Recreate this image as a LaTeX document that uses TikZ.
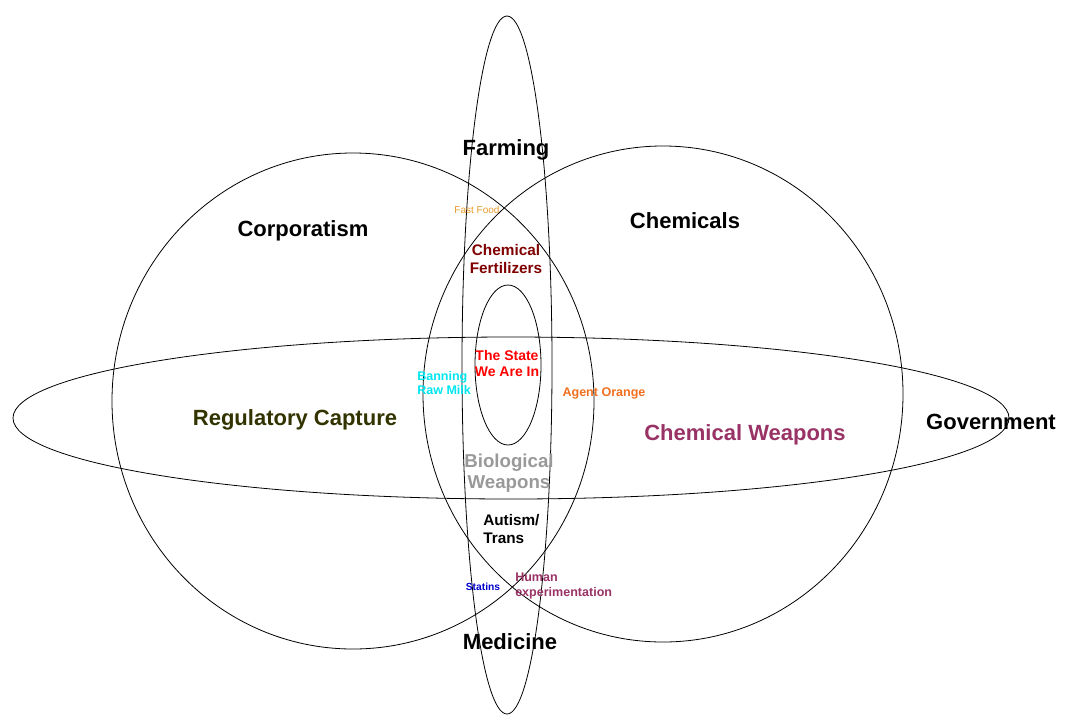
\documentclass[tikz,border=0pt]{standalone}
\usepackage{fontspec}
\setmainfont{Liberation Sans}
\usepackage{tikz}
\usetikzlibrary{positioning}
\usepackage{xcolor}
\definecolor{fastfood}{HTML}{E89A2C}
\definecolor{fertred}{HTML}{800000}
\definecolor{milkcyan}{HTML}{00E6F0}
\definecolor{agentorange}{HTML}{F07020}
\definecolor{capolive}{HTML}{333300}
\definecolor{weaponpurple}{HTML}{993366}
\definecolor{biogray}{HTML}{999999}
\definecolor{statinblue}{HTML}{0000CC}
\tikzstyle{setline} = [draw=black, line width=0.6pt]
\tikzstyle{setname} = [inner sep=0pt, font=\bfseries\fontsize{16.5}{18}\selectfont]
\tikzstyle{overlap} = [inner sep=0pt, align=center, font=\bfseries\fontsize{11.5}{13.5}\selectfont]
\tikzstyle{tiny} = [inner sep=0pt, font=\fontsize{7.5}{9}\selectfont]

\begin{document}
\begin{tikzpicture}[x=0.75pt, y=-0.75pt]
    \fill [white] (0,0) rectangle (1068,726);
    \useasboundingbox (0,0) rectangle (1068,726);

    % the five sets
    \draw [setline] (353,401) ellipse [x radius=241, y radius=248];
    \draw [setline] (663,394) ellipse [x radius=240, y radius=248];
    \draw [setline] (511,418) ellipse [x radius=498, y radius=81];
    \draw [setline] (507,365) ellipse [x radius=45, y radius=349];
    \draw [setline] (508,365) ellipse [x radius=33, y radius=80];

    % set names
    \node (farming) [setname] at (506,150) {Farming};
    \node (corp) [setname] at (303,231) {Corporatism};
    \node (chem) [setname] at (685,221) {Chemicals};
    \node (gov) [setname] at (991,422) {Government};
    \node (medicine) [setname] at (510,642) {Medicine};

    % overlaps
    \node (fastfood) [tiny, text=fastfood] at (477,210) {Fast Food};
    \node (fert) [overlap, text=fertred] at (506,259) {Chemical\\Fertilizers};
    \node (state) [overlap, text=red, font=\bfseries\fontsize{10.5}{12}\selectfont] at (507,363) {The State\\We Are In};
    \node (milk) [overlap, anchor=west, align=left, text=milkcyan, font=\bfseries\fontsize{9.4}{10.5}\selectfont] at (417,383) {Banning\\Raw Milk};
    \node (agent) [overlap, text=agentorange, font=\bfseries\fontsize{9.4}{11}\selectfont] at (604,393) {Agent Orange};
    \node (capture) [setname, text=capolive] at (295,420) {Regulatory Capture};
    \node (chemweap) [setname, text=weaponpurple] at (745,435) {Chemical Weapons};
    \node (bioweap) [overlap, text=biogray, font=\bfseries\fontsize{14}{15.75}\selectfont] at (509,473) {Biological\\Weapons};
    \node (autism) [overlap, anchor=west, align=left, text=black] at (483,529) {Autism/\\Trans};
    \node (statins) [tiny, text=statinblue, font=\bfseries\fontsize{7.7}{9}\selectfont] at (483,587) {Statins};
    \node (human) [overlap, anchor=west, align=left, text=weaponpurple, font=\bfseries\fontsize{9.4}{11.25}\selectfont] at (515,586) {Human\\experimentation};
\end{tikzpicture}
\end{document}
